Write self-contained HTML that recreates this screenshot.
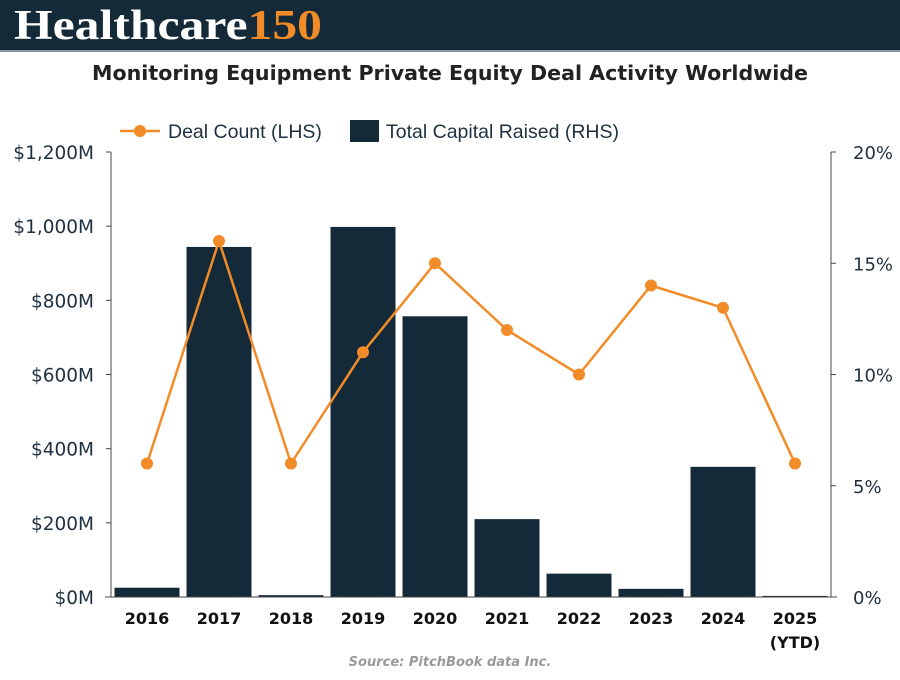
<!DOCTYPE html>
<html><head><meta charset="utf-8"><style>
body{margin:0;width:900px;height:675px;background:#fff;overflow:hidden;font-family:"Liberation Sans",sans-serif}
</style></head><body>
<svg id="chart" width="900" height="675" xmlns="http://www.w3.org/2000/svg">
<rect x="0" y="0" width="900" height="50" fill="#142a38"/>
<rect x="0" y="50" width="900" height="2" fill="#8a9aa3"/>
<text x="14" y="39" font-family="Liberation Serif,serif" font-weight="bold" font-size="42" fill="#fff" textLength="308" lengthAdjust="spacingAndGlyphs">Healthcare<tspan fill="#f28c28">150</tspan></text>
<text x="450" y="80" text-anchor="middle" font-family="DejaVu Sans,sans-serif" font-weight="bold" font-size="20" fill="#222" textLength="716" lengthAdjust="spacingAndGlyphs">Monitoring Equipment Private Equity Deal Activity Worldwide</text>
<g>
<line x1="120" y1="131" x2="160" y2="131" stroke="#f28c28" stroke-width="2.5"/>
<circle cx="140" cy="131" r="6" fill="#f28c28"/>
<text x="168" y="138" font-size="19.5" fill="#1f3140">Deal Count (LHS)</text>
<rect x="350" y="120" width="29" height="22" fill="#142a38"/>
<text x="386" y="138" font-size="19.5" fill="#1f3140">Total Capital Raised (RHS)</text>
</g>
<g id="plot"></g>
<text x="450" y="666" text-anchor="middle" font-family="DejaVu Sans,sans-serif" font-style="italic" font-weight="bold" font-size="13" fill="#999">Source: PitchBook data Inc.</text>
</svg>
<script>
const categories=["2016","2017","2018","2019","2020","2021","2022","2023","2024","2025"];
const capitalRaised=[25,944,5,998,757,210,63,22,351,3];
const dealCount=[6,16,6,11,15,12,10,14,13,6];
const leftTicks=[0,200,400,600,800,1000,1200];
const leftTickLabels=["$0M","$200M","$400M","$600M","$800M","$1,000M","$1,200M"];
const rightTicks=[0,5,10,15,20];
const rightTickLabels=["0%","5%","10%","15%","20%"];
const NS="http://www.w3.org/2000/svg";
const g=document.getElementById('plot');
const X0=111,X1=831,Y0=597,Y1=152;
const band=(X1-X0)/categories.length;
const xc=i=>X0+band*(i+0.5);
const yL=v=>Y0-(v/1200)*(Y0-Y1);
const yR=v=>Y0-(v/20)*(Y0-Y1);
function mk(t,a){const e=document.createElementNS(NS,t);for(const k in a)e.setAttribute(k,a[k]);g.appendChild(e);return e;}
capitalRaised.forEach((v,i)=>{
 const r=mk('rect',{x:xc(i)-32.5,y:yL(v),width:65,height:Y0-yL(v),fill:'#142a38'});
 
 
});
let l=mk('line',{x1:X0,y1:Y1,x2:X0,y2:Y0,stroke:'#444','stroke-width':1});


l=mk('line',{x1:X1,y1:Y1,x2:X1,y2:Y0,stroke:'#444','stroke-width':1});


l=mk('line',{x1:X0-6,y1:Y0,x2:X1+6,y2:Y0,stroke:'#444','stroke-width':1});


leftTicks.forEach((v,i)=>{
 mk('line',{x1:X0-5,y1:yL(v),x2:X0,y2:yL(v),stroke:'#444'});
 const t=mk('text',{x:94,y:yL(v)+7,'text-anchor':'end','font-family':'DejaVu Sans,sans-serif','font-size':'18.5',fill:'#1f3140'});
 t.textContent=leftTickLabels[i];
 
 
});
rightTicks.forEach((v,i)=>{
 mk('line',{x1:X1,y1:yR(v),x2:X1+5,y2:yR(v),stroke:'#444'});
 const t=mk('text',{x:853,y:yR(v)+7,'font-family':'DejaVu Sans,sans-serif','font-size':'18',fill:'#1f3140'});
 t.textContent=rightTickLabels[i];
 
 
});
categories.forEach((c,i)=>{
 const t=mk('text',{x:xc(i),y:624,'text-anchor':'middle','font-family':'DejaVu Sans,sans-serif','font-weight':'bold','font-size':'16',fill:'#111'});
 t.textContent=c;
 
 
});
const ytd=mk('text',{x:xc(9),y:648,'text-anchor':'middle','font-family':'DejaVu Sans,sans-serif','font-weight':'bold','font-size':'16',fill:'#111'});
ytd.textContent="(YTD)";


const pl=mk('polyline',{points:dealCount.map((v,i)=>xc(i)+','+yR(v)).join(' '),fill:'none',stroke:'#f28c28','stroke-width':2.5});


dealCount.forEach((v,i)=>{
 const c=mk('circle',{cx:xc(i),cy:yR(v),r:6,fill:'#f28c28'});
 
 
});
</script>
</body></html>
